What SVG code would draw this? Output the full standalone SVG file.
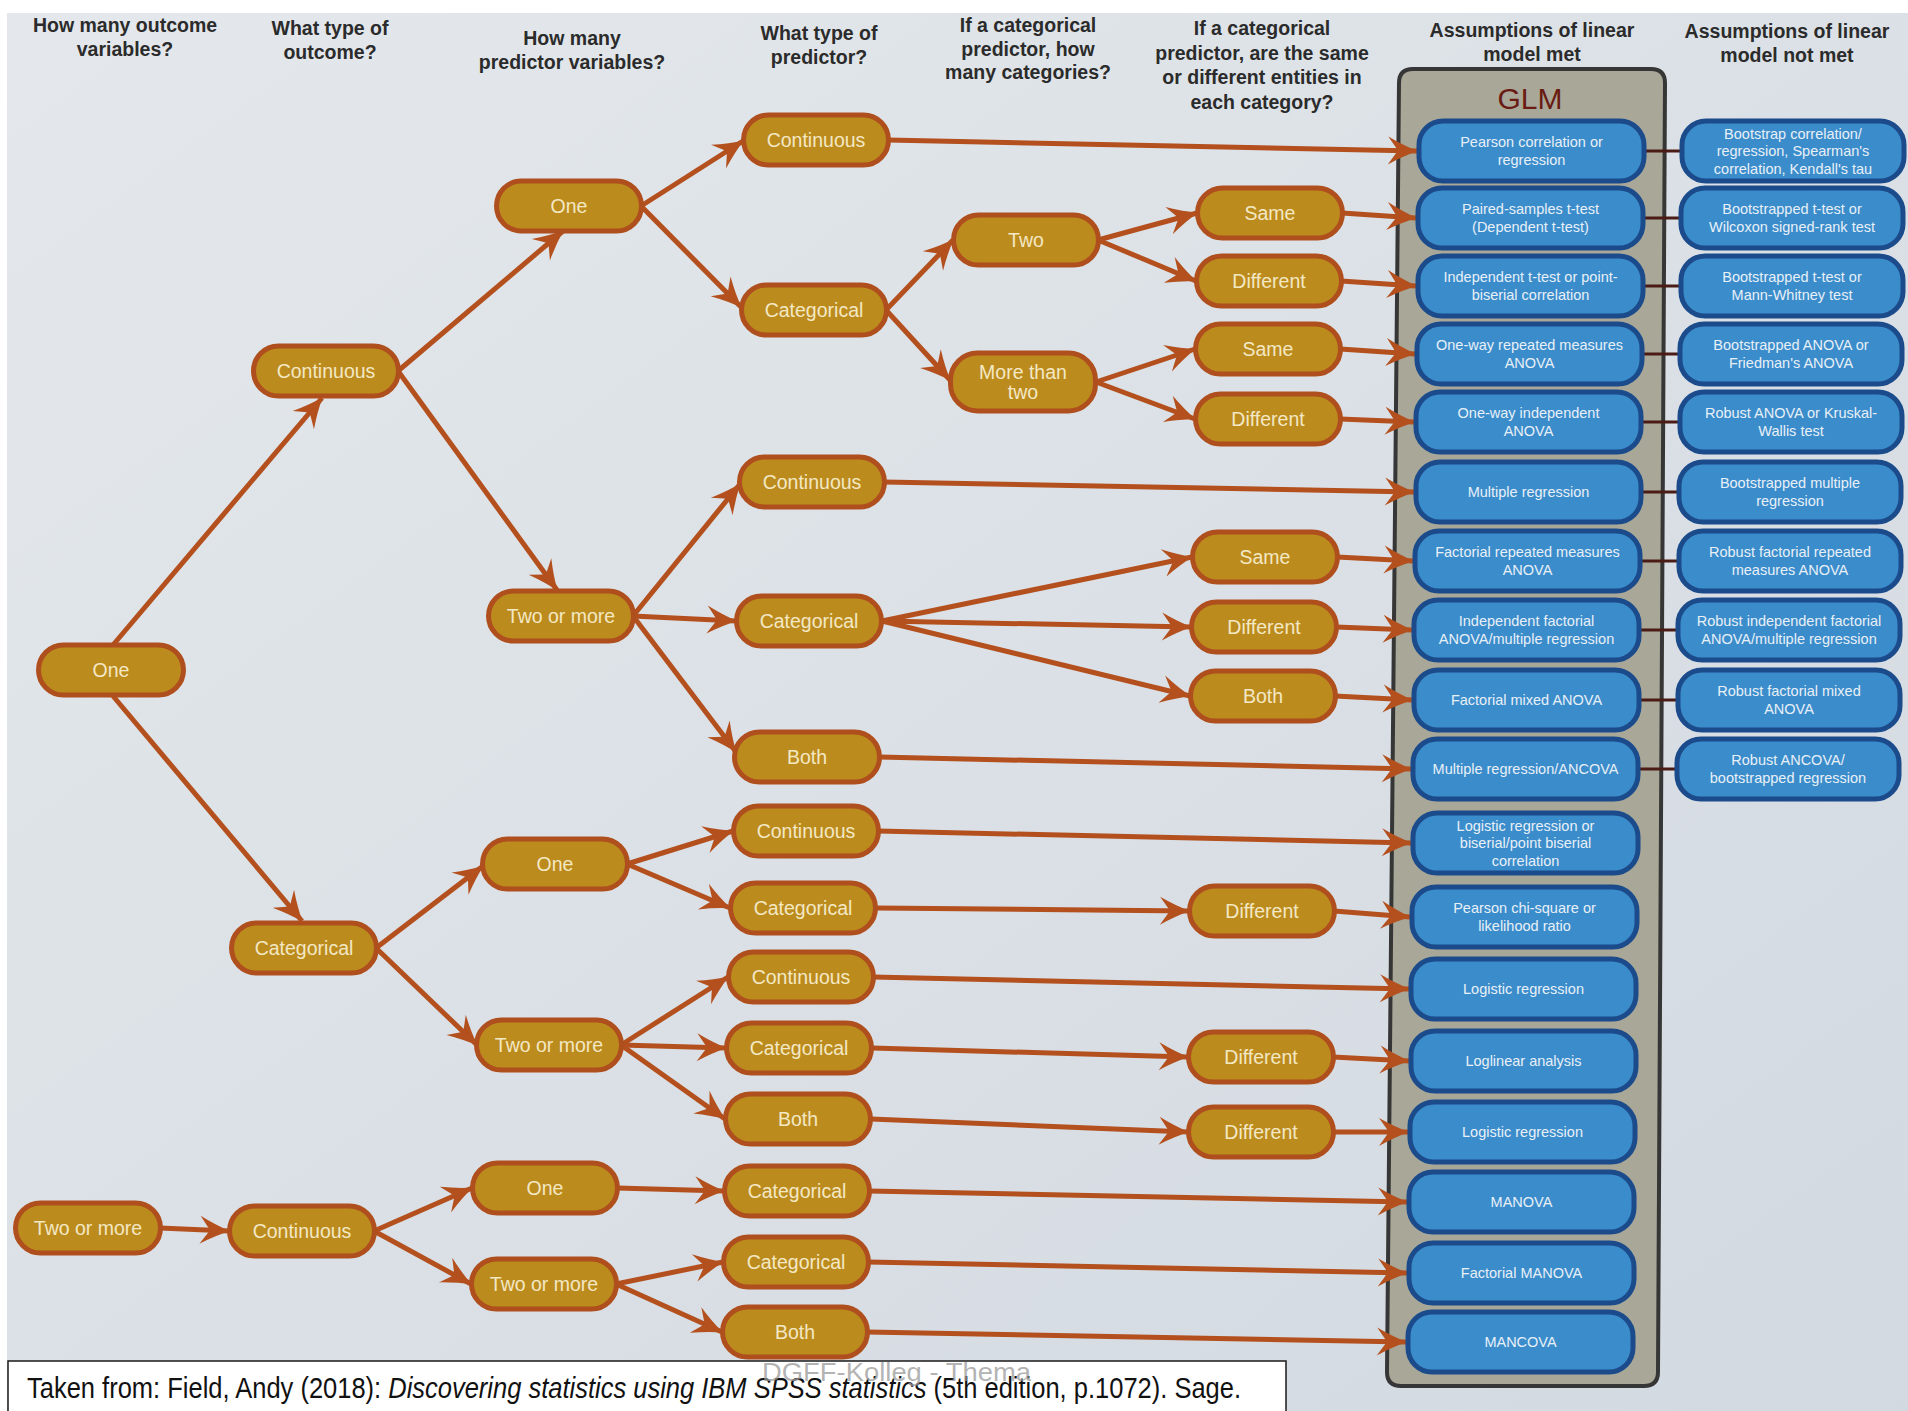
<svg xmlns="http://www.w3.org/2000/svg" width="1908" height="1411" viewBox="0 0 1908 1411">
<style>
.hd{font-family:"Liberation Sans",Arial,sans-serif;font-weight:bold;font-size:19.5px;fill:#2b2b2b;text-anchor:middle}
.pill rect{fill:#BC8B1E;stroke:#AF4F1D;stroke-width:5}
.pill text{font-family:"Liberation Sans",Arial,sans-serif;font-size:19.5px;fill:#F3E8C4;text-anchor:middle}
.blue rect{fill:#3B8CCB;stroke:#1B4B8B;stroke-width:5}
.blue text{font-family:"Liberation Sans",Arial,sans-serif;font-size:14.5px;fill:#E8F0F7;text-anchor:middle}
.edge{stroke:#B3501E;stroke-width:5;fill:none;marker-end:url(#ah)}
.link{stroke:#4A1C15;stroke-width:3;fill:none}
</style>
<defs>
<linearGradient id="bg" x1="0" y1="0" x2="1" y2="1">
<stop offset="0" stop-color="#E4E8EC"/>
<stop offset="1" stop-color="#D2D9E0"/>
</linearGradient>
<marker id="ah" viewBox="-32 -15 34 30" refX="-1" refY="0" markerWidth="34" markerHeight="30" markerUnits="userSpaceOnUse" orient="auto">
<path d="M0,0 Q-14,-5 -30,-14 L-20,0 L-30,14 Q-14,5 0,0 Z" fill="#B3501E"/>
</marker>
</defs>
<rect x="0" y="0" width="1908" height="1411" fill="#FFFFFF"/>
<rect x="7" y="13" width="1901" height="1398" fill="url(#bg)"/>

<g id="headers">
<text class="hd" x="125" y="32">How many outcome<tspan x="125" dy="23.5">variables?</tspan></text>
<text class="hd" x="330" y="35">What type of<tspan x="330" dy="23.5">outcome?</tspan></text>
<text class="hd" x="572" y="45">How many<tspan x="572" dy="23.5">predictor variables?</tspan></text>
<text class="hd" x="819" y="40">What type of<tspan x="819" dy="23.5">predictor?</tspan></text>
<text class="hd" x="1028" y="32">If a categorical<tspan x="1028" dy="23.5">predictor, how</tspan><tspan x="1028" dy="23.5">many categories?</tspan></text>
<text class="hd" x="1262" y="35">If a categorical<tspan x="1262" dy="24.5">predictor, are the same</tspan><tspan x="1262" dy="24.5">or different entities in</tspan><tspan x="1262" dy="24.5">each category?</tspan></text>
<text class="hd" x="1532" y="37">Assumptions of linear<tspan x="1532" dy="23.5">model met</tspan></text>
<text class="hd" x="1787" y="38">Assumptions of linear<tspan x="1787" dy="23.5">model not met</tspan></text>
</g>

<g id="glm-container">
<path d="M1413,69 H1651 Q1665,69 1665,83 L1658,1372 Q1658,1386 1644,1386 H1401 Q1387,1386 1387,1372 L1399,83 Q1399,69 1413,69 Z" fill="#A8A798" stroke="#363636" stroke-width="4"/>
<text x="1530" y="109" font-family="Liberation Sans, Arial, sans-serif" font-size="30" fill="#6A1B12" text-anchor="middle">GLM</text>
</g>

<g id="connectors">
<line class="edge" x1="113" y1="645" x2="322" y2="398"/>
<line class="edge" x1="113" y1="696" x2="302" y2="921"/>
<line class="edge" x1="398" y1="371" x2="563" y2="231"/>
<line class="edge" x1="398" y1="371" x2="557" y2="590"/>
<line class="edge" x1="641" y1="206" x2="743" y2="141"/>
<line class="edge" x1="641" y1="206" x2="741" y2="307"/>
<line class="edge" x1="886" y1="310" x2="953" y2="240"/>
<line class="edge" x1="886" y1="310" x2="950" y2="380"/>
<line class="edge" x1="1098" y1="240" x2="1197" y2="213"/>
<line class="edge" x1="1098" y1="240" x2="1196" y2="281"/>
<line class="edge" x1="1096" y1="382" x2="1195" y2="349"/>
<line class="edge" x1="1096" y1="382" x2="1195" y2="419"/>
<line class="edge" x1="633" y1="616" x2="740" y2="484"/>
<line class="edge" x1="633" y1="616" x2="736" y2="621"/>
<line class="edge" x1="633" y1="616" x2="736" y2="752"/>
<line class="edge" x1="882" y1="621" x2="1192" y2="557"/>
<line class="edge" x1="882" y1="621" x2="1191" y2="627"/>
<line class="edge" x1="882" y1="621" x2="1190" y2="696"/>
<line class="edge" x1="376" y1="948" x2="483" y2="866"/>
<line class="edge" x1="376" y1="948" x2="477" y2="1045"/>
<line class="edge" x1="627" y1="864" x2="733" y2="831"/>
<line class="edge" x1="627" y1="864" x2="730" y2="908"/>
<line class="edge" x1="876" y1="908" x2="1189" y2="911"/>
<line class="edge" x1="621" y1="1045" x2="728" y2="977"/>
<line class="edge" x1="621" y1="1045" x2="726" y2="1048"/>
<line class="edge" x1="621" y1="1045" x2="725" y2="1119"/>
<line class="edge" x1="872" y1="1048" x2="1188" y2="1057"/>
<line class="edge" x1="871" y1="1119" x2="1188" y2="1132"/>
<line class="edge" x1="160" y1="1228" x2="229" y2="1231"/>
<line class="edge" x1="374" y1="1231" x2="472" y2="1188"/>
<line class="edge" x1="374" y1="1231" x2="471" y2="1284"/>
<line class="edge" x1="617" y1="1188" x2="724" y2="1191"/>
<line class="edge" x1="616" y1="1284" x2="723" y2="1262"/>
<line class="edge" x1="616" y1="1284" x2="722" y2="1332"/>
<line class="edge" x1="888" y1="140" x2="1417" y2="151"/>
<line class="edge" x1="1342" y1="213" x2="1416" y2="218"/>
<line class="edge" x1="1341" y1="281" x2="1416" y2="286"/>
<line class="edge" x1="1340" y1="349" x2="1415" y2="354"/>
<line class="edge" x1="1340" y1="419" x2="1414" y2="422"/>
<line class="edge" x1="884" y1="482" x2="1414" y2="492"/>
<line class="edge" x1="1337" y1="557" x2="1413" y2="561"/>
<line class="edge" x1="1336" y1="627" x2="1412" y2="630"/>
<line class="edge" x1="1335" y1="696" x2="1412" y2="700"/>
<line class="edge" x1="879" y1="757" x2="1411" y2="769"/>
<line class="edge" x1="878" y1="831" x2="1411" y2="843"/>
<line class="edge" x1="1334" y1="911" x2="1410" y2="917"/>
<line class="edge" x1="873" y1="977" x2="1409" y2="989"/>
<line class="edge" x1="1333" y1="1057" x2="1409" y2="1061"/>
<line class="edge" x1="1333" y1="1132" x2="1408" y2="1132"/>
<line class="edge" x1="869" y1="1191" x2="1407" y2="1202"/>
<line class="edge" x1="868" y1="1262" x2="1407" y2="1273"/>
<line class="edge" x1="867" y1="1332" x2="1406" y2="1342"/>
<line class="link" x1="1644" y1="151" x2="1682" y2="151"/>
<line class="link" x1="1643" y1="218" x2="1681" y2="218"/>
<line class="link" x1="1643" y1="286" x2="1681" y2="286"/>
<line class="link" x1="1642" y1="354" x2="1680" y2="354"/>
<line class="link" x1="1641" y1="422" x2="1680" y2="422"/>
<line class="link" x1="1641" y1="492" x2="1679" y2="492"/>
<line class="link" x1="1640" y1="561" x2="1679" y2="561"/>
<line class="link" x1="1639" y1="630" x2="1678" y2="630"/>
<line class="link" x1="1639" y1="700" x2="1678" y2="700"/>
<line class="link" x1="1638" y1="769" x2="1677" y2="769"/>
</g>

<g id="n-out-one" class="pill"><rect x="38.5" y="645" width="145" height="50" rx="25"/><text x="111" y="677">One</text></g>
<g id="n-out-two" class="pill"><rect x="15.5" y="1203" width="145" height="50" rx="25"/><text x="88" y="1235">Two or more</text></g>

<g id="n-type-cont1" class="pill"><rect x="253.5" y="346" width="145" height="50" rx="25"/><text x="326" y="378">Continuous</text></g>
<g id="n-type-cat" class="pill"><rect x="231.5" y="923" width="145" height="50" rx="25"/><text x="304" y="955">Categorical</text></g>
<g id="n-type-cont2" class="pill"><rect x="229.5" y="1206" width="145" height="50" rx="25"/><text x="302" y="1238">Continuous</text></g>

<g id="n-pc-one-a" class="pill"><rect x="496.5" y="181" width="145" height="50" rx="25"/><text x="569" y="213">One</text></g>
<g id="n-pc-two-a" class="pill"><rect x="488.5" y="591" width="145" height="50" rx="25"/><text x="561" y="623">Two or more</text></g>
<g id="n-pc-one-b" class="pill"><rect x="482.5" y="839" width="145" height="50" rx="25"/><text x="555" y="871">One</text></g>
<g id="n-pc-two-b" class="pill"><rect x="476.5" y="1020" width="145" height="50" rx="25"/><text x="549" y="1052">Two or more</text></g>
<g id="n-pc-one-c" class="pill"><rect x="472.5" y="1163" width="145" height="50" rx="25"/><text x="545" y="1195">One</text></g>
<g id="n-pc-two-c" class="pill"><rect x="471.5" y="1259" width="145" height="50" rx="25"/><text x="544" y="1291">Two or more</text></g>

<g id="n-pt-1" class="pill"><rect x="743.5" y="115" width="145" height="50" rx="25"/><text x="816" y="147">Continuous</text></g>
<g id="n-pt-2" class="pill"><rect x="741.5" y="285" width="145" height="50" rx="25"/><text x="814" y="317">Categorical</text></g>
<g id="n-pt-3" class="pill"><rect x="739.5" y="457" width="145" height="50" rx="25"/><text x="812" y="489">Continuous</text></g>
<g id="n-pt-4" class="pill"><rect x="736.5" y="596" width="145" height="50" rx="25"/><text x="809" y="628">Categorical</text></g>
<g id="n-pt-5" class="pill"><rect x="734.5" y="732" width="145" height="50" rx="25"/><text x="807" y="764">Both</text></g>
<g id="n-pt-6" class="pill"><rect x="733.5" y="806" width="145" height="50" rx="25"/><text x="806" y="838">Continuous</text></g>
<g id="n-pt-7" class="pill"><rect x="730.5" y="883" width="145" height="50" rx="25"/><text x="803" y="915">Categorical</text></g>
<g id="n-pt-8" class="pill"><rect x="728.5" y="952" width="145" height="50" rx="25"/><text x="801" y="984">Continuous</text></g>
<g id="n-pt-9" class="pill"><rect x="726.5" y="1023" width="145" height="50" rx="25"/><text x="799" y="1055">Categorical</text></g>
<g id="n-pt-10" class="pill"><rect x="725.5" y="1094" width="145" height="50" rx="25"/><text x="798" y="1126">Both</text></g>
<g id="n-pt-11" class="pill"><rect x="724.5" y="1166" width="145" height="50" rx="25"/><text x="797" y="1198">Categorical</text></g>
<g id="n-pt-12" class="pill"><rect x="723.5" y="1237" width="145" height="50" rx="25"/><text x="796" y="1269">Categorical</text></g>
<g id="n-pt-13" class="pill"><rect x="722.5" y="1307" width="145" height="50" rx="25"/><text x="795" y="1339">Both</text></g>

<g id="n-cat-two" class="pill"><rect x="953.5" y="215" width="145" height="50" rx="25"/><text x="1026" y="247">Two</text></g>
<g id="n-cat-more" class="pill"><rect x="950.5" y="353" width="145" height="58" rx="27"/><text x="1023" y="379">More than<tspan x="1023" dy="20">two</tspan></text></g>

<g id="n-sd-1" class="pill"><rect x="1197.5" y="188" width="145" height="50" rx="25"/><text x="1270" y="220">Same</text></g>
<g id="n-sd-2" class="pill"><rect x="1196.5" y="256" width="145" height="50" rx="25"/><text x="1269" y="288">Different</text></g>
<g id="n-sd-3" class="pill"><rect x="1195.5" y="324" width="145" height="50" rx="25"/><text x="1268" y="356">Same</text></g>
<g id="n-sd-4" class="pill"><rect x="1195.5" y="394" width="145" height="50" rx="25"/><text x="1268" y="426">Different</text></g>
<g id="n-sd-5" class="pill"><rect x="1192.5" y="532" width="145" height="50" rx="25"/><text x="1265" y="564">Same</text></g>
<g id="n-sd-6" class="pill"><rect x="1191.5" y="602" width="145" height="50" rx="25"/><text x="1264" y="634">Different</text></g>
<g id="n-sd-7" class="pill"><rect x="1190.5" y="671" width="145" height="50" rx="25"/><text x="1263" y="703">Both</text></g>
<g id="n-sd-8" class="pill"><rect x="1189.5" y="886" width="145" height="50" rx="25"/><text x="1262" y="918">Different</text></g>
<g id="n-sd-9" class="pill"><rect x="1188.5" y="1032" width="145" height="50" rx="25"/><text x="1261" y="1064">Different</text></g>
<g id="n-sd-10" class="pill"><rect x="1188.5" y="1107" width="145" height="50" rx="25"/><text x="1261" y="1139">Different</text></g>

<g id="glm-1" class="blue"><rect x="1419" y="121" width="225" height="60" rx="24"/><text x="1531.5" y="147">Pearson correlation or<tspan x="1531.5" dy="17.5">regression</tspan></text></g>
<g id="glm-2" class="blue"><rect x="1418" y="188" width="225" height="60" rx="24"/><text x="1530.5" y="214">Paired-samples t-test<tspan x="1530.5" dy="17.5">(Dependent t-test)</tspan></text></g>
<g id="glm-3" class="blue"><rect x="1418" y="256" width="225" height="60" rx="24"/><text x="1530.5" y="282">Independent t-test or point-<tspan x="1530.5" dy="17.5">biserial correlation</tspan></text></g>
<g id="glm-4" class="blue"><rect x="1417" y="324" width="225" height="60" rx="24"/><text x="1529.5" y="350">One-way repeated measures<tspan x="1529.5" dy="17.5">ANOVA</tspan></text></g>
<g id="glm-5" class="blue"><rect x="1416" y="392" width="225" height="60" rx="24"/><text x="1528.5" y="418">One-way independent<tspan x="1528.5" dy="17.5">ANOVA</tspan></text></g>
<g id="glm-6" class="blue"><rect x="1416" y="462" width="225" height="60" rx="24"/><text x="1528.5" y="497">Multiple regression</text></g>
<g id="glm-7" class="blue"><rect x="1415" y="531" width="225" height="60" rx="24"/><text x="1527.5" y="557">Factorial repeated measures<tspan x="1527.5" dy="17.5">ANOVA</tspan></text></g>
<g id="glm-8" class="blue"><rect x="1414" y="600" width="225" height="60" rx="24"/><text x="1526.5" y="626">Independent factorial<tspan x="1526.5" dy="17.5">ANOVA/multiple regression</tspan></text></g>
<g id="glm-9" class="blue"><rect x="1414" y="670" width="225" height="60" rx="24"/><text x="1526.5" y="705">Factorial mixed ANOVA</text></g>
<g id="glm-10" class="blue"><rect x="1413" y="739" width="225" height="60" rx="24"/><text x="1525.5" y="774">Multiple regression/ANCOVA</text></g>
<g id="glm-11" class="blue"><rect x="1413" y="813" width="225" height="60" rx="24"/><text x="1525.5" y="830.5">Logistic regression or<tspan x="1525.5" dy="17.5">biserial/point biserial</tspan><tspan x="1525.5" dy="17.5">correlation</tspan></text></g>
<g id="glm-12" class="blue"><rect x="1412" y="887" width="225" height="60" rx="24"/><text x="1524.5" y="913">Pearson chi-square or<tspan x="1524.5" dy="17.5">likelihood ratio</tspan></text></g>
<g id="glm-13" class="blue"><rect x="1411" y="959" width="225" height="60" rx="24"/><text x="1523.5" y="994">Logistic regression</text></g>
<g id="glm-14" class="blue"><rect x="1411" y="1031" width="225" height="60" rx="24"/><text x="1523.5" y="1066">Loglinear analysis</text></g>
<g id="glm-15" class="blue"><rect x="1410" y="1102" width="225" height="60" rx="24"/><text x="1522.5" y="1137">Logistic regression</text></g>
<g id="glm-16" class="blue"><rect x="1409" y="1172" width="225" height="60" rx="24"/><text x="1521.5" y="1207">MANOVA</text></g>
<g id="glm-17" class="blue"><rect x="1409" y="1243" width="225" height="60" rx="24"/><text x="1521.5" y="1278">Factorial MANOVA</text></g>
<g id="glm-18" class="blue"><rect x="1408" y="1312" width="225" height="60" rx="24"/><text x="1520.5" y="1347">MANCOVA</text></g>

<g id="alt-1" class="blue"><rect x="1682" y="121" width="222" height="60" rx="24"/><text x="1793" y="138.5">Bootstrap correlation/<tspan x="1793" dy="17.5">regression, Spearman's</tspan><tspan x="1793" dy="17.5">correlation, Kendall's tau</tspan></text></g>
<g id="alt-2" class="blue"><rect x="1681" y="188" width="222" height="60" rx="24"/><text x="1792" y="214">Bootstrapped t-test or<tspan x="1792" dy="17.5">Wilcoxon signed-rank test</tspan></text></g>
<g id="alt-3" class="blue"><rect x="1681" y="256" width="222" height="60" rx="24"/><text x="1792" y="282">Bootstrapped t-test or<tspan x="1792" dy="17.5">Mann-Whitney test</tspan></text></g>
<g id="alt-4" class="blue"><rect x="1680" y="324" width="222" height="60" rx="24"/><text x="1791" y="350">Bootstrapped ANOVA or<tspan x="1791" dy="17.5">Friedman's ANOVA</tspan></text></g>
<g id="alt-5" class="blue"><rect x="1680" y="392" width="222" height="60" rx="24"/><text x="1791" y="418">Robust ANOVA or Kruskal-<tspan x="1791" dy="17.5">Wallis test</tspan></text></g>
<g id="alt-6" class="blue"><rect x="1679" y="462" width="222" height="60" rx="24"/><text x="1790" y="488">Bootstrapped multiple<tspan x="1790" dy="17.5">regression</tspan></text></g>
<g id="alt-7" class="blue"><rect x="1679" y="531" width="222" height="60" rx="24"/><text x="1790" y="557">Robust factorial repeated<tspan x="1790" dy="17.5">measures ANOVA</tspan></text></g>
<g id="alt-8" class="blue"><rect x="1678" y="600" width="222" height="60" rx="24"/><text x="1789" y="626">Robust independent factorial<tspan x="1789" dy="17.5">ANOVA/multiple regression</tspan></text></g>
<g id="alt-9" class="blue"><rect x="1678" y="670" width="222" height="60" rx="24"/><text x="1789" y="696">Robust factorial mixed<tspan x="1789" dy="17.5">ANOVA</tspan></text></g>
<g id="alt-10" class="blue"><rect x="1677" y="739" width="222" height="60" rx="24"/><text x="1788" y="765">Robust ANCOVA/<tspan x="1788" dy="17.5">bootstrapped regression</tspan></text></g>

<g id="footer">
<rect x="8" y="1361" width="1278" height="60" fill="#FFFFFF" stroke="#1A1A1A" stroke-width="1.5"/>
<text x="27" y="1398" font-family="Liberation Sans Narrow, Liberation Sans, Arial, sans-serif" font-size="30" fill="#111111" textLength="1214" lengthAdjust="spacingAndGlyphs">Taken from: Field, Andy (2018): <tspan font-style="italic">Discovering statistics using IBM SPSS statistics</tspan> (5th edition, p.1072). Sage.</text>
<text x="762" y="1381" font-family="Liberation Sans, Arial, sans-serif" font-size="26" fill="#9A9A9A" fill-opacity="0.75" textLength="269" lengthAdjust="spacingAndGlyphs">DGFF-Kolleg - Thema</text>
</g>
</svg>
